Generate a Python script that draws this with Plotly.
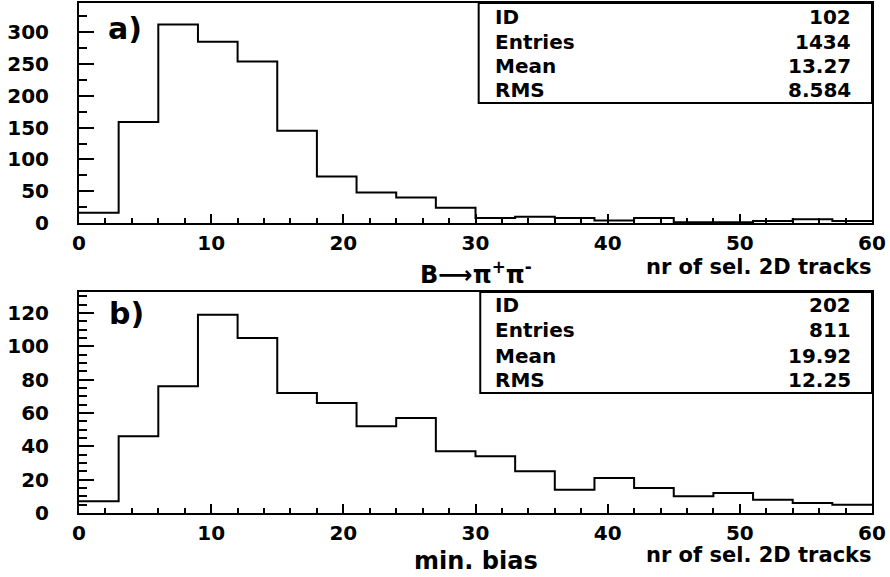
import plotly.graph_objects as go

# ---------------- data ----------------
bin_edges = [0, 3, 6, 9, 12, 15, 18, 21, 24, 27, 30, 33, 36, 39, 42, 45, 48, 51, 54, 57, 60]
counts_a = [16, 159, 312, 285, 254, 145, 73, 48, 40, 24, 8, 10, 8, 4, 8, 1, 1, 3, 6, 3]
counts_b = [7, 46, 76, 119, 105, 72, 66, 52, 57, 37, 34, 25, 14, 21, 15, 10, 12, 8, 6, 5]

stats_labels = ["ID", "Entries", "Mean", "RMS"]
stats_a = ["102", "1434", "13.27", "8.584"]
stats_b = ["202", "811", "19.92", "12.25"]

title_a = "B⟶π<sup>+</sup>π<sup>-</sup>"
title_b = "min. bias"
x_title = "nr of sel. 2D tracks"
x_ticks = [0, 10, 20, 30, 40, 50, 60]
y_ticks_a = [0, 50, 100, 150, 200, 250, 300]
y_ticks_b = [0, 20, 40, 60, 80, 100, 120]

FONT = "DejaVu Sans"
W, H = 890, 577

fig = go.Figure()

def add_hist(counts, xa, ya):
    fig.add_trace(go.Scatter(
        x=bin_edges, y=counts + [counts[-1]],
        mode="lines", line=dict(shape="hv", color="black", width=2),
        xaxis=xa, yaxis=ya, showlegend=False, hoverinfo="skip"))

add_hist(counts_a, "x", "y")
add_hist(counts_b, "x2", "y2")

xdom = [79 / W, 872 / W]
ydom_a = [1 - 223 / H, 1 - 3 / H]
ydom_b = [1 - 513 / H, 1 - 292 / H]

def xaxis_cfg(anchor):
    return dict(
        domain=xdom, anchor=anchor, range=[0, 60], tickvals=x_ticks,
        ticks="inside", ticklen=9, tickwidth=1.5, tickcolor="black",
        minor=dict(dtick=2, ticks="inside", ticklen=5, tickwidth=1.5, tickcolor="black"),
        showline=True, linecolor="black", linewidth=2, mirror=True,
        showgrid=False, zeroline=False, ticklabelstandoff=1, automargin=False,
        tickfont=dict(family=FONT, size=20, color="black", weight="bold"))

def yaxis_cfg(anchor, dom, rng, ticks, minor_dt):
    return dict(
        domain=dom, anchor=anchor, range=rng, tickvals=ticks,
        ticks="inside", ticklen=15, tickwidth=1.5, tickcolor="black",
        minor=dict(dtick=minor_dt, tick0=0, ticks="inside", ticklen=8, tickwidth=1.5, tickcolor="black"),
        showline=True, linecolor="black", linewidth=2, mirror=True,
        showgrid=False, zeroline=False, ticklabelstandoff=24, automargin=False,
        tickfont=dict(family=FONT, size=20, color="black", weight="bold"))

fig.update_layout(
    template="none",
    width=W, height=H, margin=dict(l=0, r=0, t=0, b=0, autoexpand=False),
    paper_bgcolor="white", plot_bgcolor="white",
    xaxis=xaxis_cfg("y"), yaxis=yaxis_cfg("x", ydom_a, [0, 346], y_ticks_a, 25),
    xaxis2=xaxis_cfg("y2"), yaxis2=yaxis_cfg("x2", ydom_b, [0, 132.6], y_ticks_b, 5),
)

tf = dict(family=FONT, color="black", weight="bold")
ann = []

def stats_box(xr, yr, x0, y0, rows_y, values):
    fig.add_shape(type="rect", xref=xr + " domain", yref=yr + " domain",
                  x0=x0, x1=1, y0=y0, y1=1, line=dict(color="black", width=2),
                  fillcolor="white", layer="above")
    for lab, val, yy in zip(stats_labels, values, rows_y):
        ann.append(dict(xref=xr + " domain", yref=yr + " domain", x=0.522, y=yy,
                        text=lab, showarrow=False, xanchor="left", yanchor="middle",
                        font=dict(size=20, **tf)))
        ann.append(dict(xref=xr + " domain", yref=yr + " domain", x=0.976, y=yy,
                        text=val, showarrow=False, xanchor="right", yanchor="middle",
                        font=dict(size=20, **tf)))

stats_box("x", "y", 0.504, 0.545, [0.936, 0.823, 0.714, 0.605], stats_a)
stats_box("x2", "y2", 0.506, 0.543, [0.941, 0.828, 0.710, 0.602], stats_b)

def paper_text(text, px, py, size, xanchor="center"):
    ann.append(dict(xref="paper", yref="paper", x=px / W, y=1 - py / H, text=text,
                    showarrow=False, xanchor=xanchor, yanchor="middle",
                    font=dict(size=size, **tf)))

paper_text("a)", 125, 28, 30)
paper_text("b)", 126, 313, 30)
paper_text(x_title, 874, 267, 21, "right")
paper_text(x_title, 874, 555, 21, "right")
paper_text(title_a, 476, 273, 24)
paper_text(title_b, 476, 561, 24)

fig.update_layout(annotations=ann)
fig.write_html("out.html")
